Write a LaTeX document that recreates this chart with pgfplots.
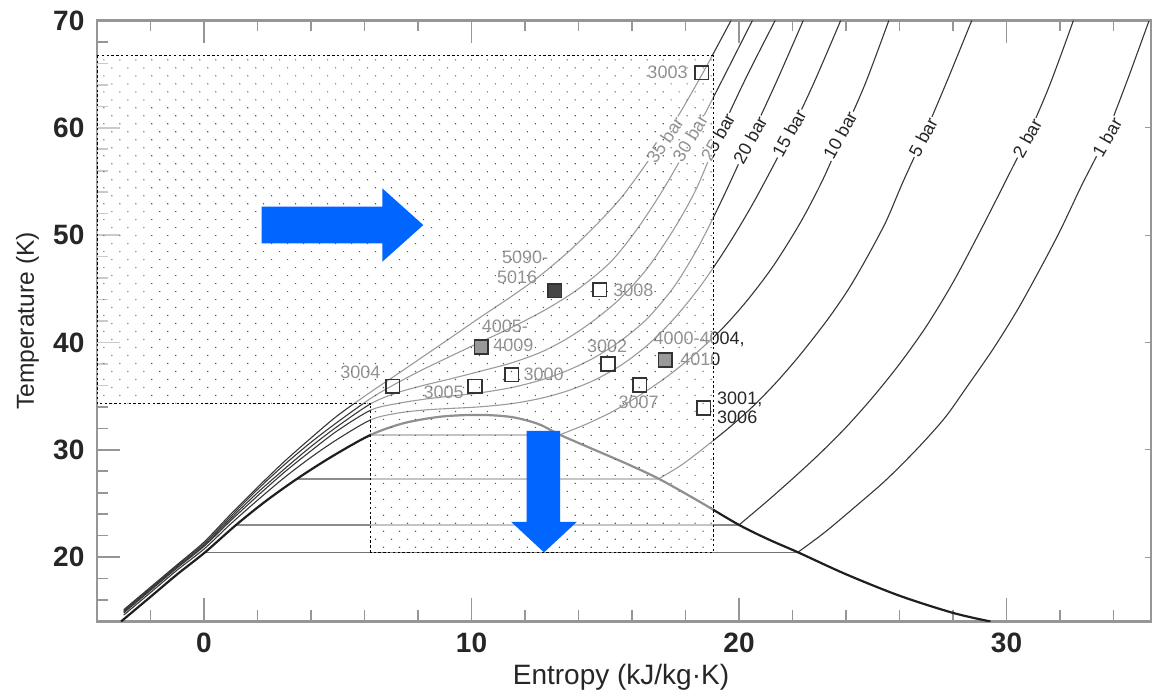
\documentclass[border=0pt]{standalone}
\usepackage{fontspec}
\setmainfont{Liberation Sans}
\usepackage{pgfplots}
\pgfplotsset{compat=1.18}
\usetikzlibrary{patterns.meta}

\definecolor{framegray}{RGB}{150,150,150}
\definecolor{arrowblue}{RGB}{0,102,255}
\definecolor{isobar}{RGB}{55,55,55}
\definecolor{tieline}{RGB}{140,140,140}

\newcommand{\lblfont}{\fontsize{9}{10}\selectfont}

\begin{document}
\begin{tikzpicture}
\useasboundingbox (-48.5pt,-34.8pt) rectangle (528pt,310.75pt);

\begin{axis}[
  at={(0pt,0pt)}, anchor=south west,
  scale only axis, width=527pt, height=300.5pt,
  xmin=-4, xmax=35.4, ymin=14, ymax=70,
  xtick={0,10,20,30},
  minor xtick={-2,2,4,6,8,12,14,16,18,22,24,26,28,32,34},
  ytick={20,30,40,50,60,70},
  minor ytick={16,18,22,24,26,28,32,34,36,38,42,44,46,48,52,54,56,58,62,64,66,68},
  ytick pos=left,
  tick align=inside,
  major tick length=11.5pt, minor tick length=5.5pt,
  axis line style={draw=framegray, line width=1.2pt},
  tick style={draw=framegray, line width=0.8pt},
  tick label style={font=\fontsize{14}{16}\selectfont\bfseries, text=black!85},
  /pgf/number format/assume math mode=true,
  xticklabel style={yshift=-2.2pt},
  yticklabel style={xshift=-2.8pt},
]

% ---- two-phase tie lines (1, 2, 5, 10 bar)
\addplot[tieline, line width=0.9pt] coordinates {(6.24,31.4) (13.3,31.4)};
\addplot[tieline, line width=0.9pt] coordinates {(3.48,27.3) (17.0,27.3)};
\addplot[tieline, line width=0.9pt] coordinates {(1.2,23.0) (20.0,23.0)};
\addplot[black!55, line width=0.7pt] coordinates {(0.04,20.45) (22.2,20.45)};

% ---- supercritical isobars
\addplot[isobar, line width=0.55pt, smooth] coordinates {
 (-3.0,15.1) (-2,17.2) (-1,19.3) (0,21.4) (1,24.0) (2,26.5) (3,28.9) (4,31.1) (5,33.2)
 (6.24,35.4) (7.2,37.0) (8.2,38.7) (9.2,40.4) (10.3,42.3) (11.5,44.3) (12.5,46.1)
 (13.6,48.4) (14.6,50.8) (15.6,53.5) (16.6,56.9) (17.6,60.6) (18.6,64.9) (19.7,70)};
\addplot[isobar, line width=0.55pt, smooth] coordinates {
 (-3.0,15.0) (-2,17.1) (-1,19.2) (0,21.25) (1,23.8) (2,26.3) (3,28.6) (4,30.7) (5,32.6)
 (6.24,34.8) (7.2,36.2) (8.2,37.5) (9.2,38.7) (10.3,40.0) (11.5,41.4) (12.8,43.1)
 (14.0,45.0) (15.2,47.5) (16.2,50.6) (17.2,54.4) (18.2,58.8) (19.3,64.1) (20.5,70)};
\addplot[isobar, line width=0.55pt, smooth] coordinates {
 (-3.0,14.9) (-2,17.0) (-1,19.1) (0,21.1) (1,23.6) (2,26.0) (3,28.2) (4,30.3) (5,32.2)
 (6.24,34.3) (7.2,35.3) (8.2,36.0) (9.2,36.6) (10.3,37.3) (11.5,38.1) (12.6,39.1)
 (13.6,40.4) (14.6,42.1) (15.6,44.2) (16.6,47.0) (17.6,50.7) (18.4,54.3) (19.2,59.0)
 (20.25,64.6) (21.35,70)};
\addplot[isobar, line width=0.55pt, smooth] coordinates {
 (-3.0,14.8) (-2,16.9) (-1,19.0) (0,21.0) (1,23.4) (2,25.7) (3,27.9) (4,29.9) (5,31.8)
 (6.24,33.7) (7.2,34.3) (8.2,34.7) (9.2,35.0) (10.3,35.3) (11.5,35.8) (12.6,36.5)
 (13.6,37.4) (14.6,38.6) (15.6,40.2) (16.6,42.3) (17.6,45.3) (18.5,49.0) (19.4,53.5)
 (20.4,58.9) (21.4,64.3) (22.4,70)};
\addplot[isobar, line width=0.55pt, smooth] coordinates {
 (-3.0,14.6) (-2,16.7) (-1,18.8) (0,20.75) (1,23.1) (2,25.3) (3,27.4) (4,29.3) (5,31.0)
 (6.24,32.8) (7.2,33.4) (8.2,33.7) (9.2,33.85) (10.3,34.0) (11.5,34.3) (12.6,34.8)
 (13.6,35.5) (14.6,36.5) (15.6,37.9) (16.6,39.8) (17.6,42.3) (18.6,45.4) (19.6,49.1)
 (20.6,53.3) (21.87,59.3) (22.8,64.2) (23.8,70)};

% ---- subcritical isobars, vapour side
\addplot[isobar, line width=0.55pt, smooth] coordinates {
 (13.3,31.4) (14.3,32.4) (15.3,33.6) (16.3,35.1) (17.3,36.8) (18.3,38.8) (19.3,41.1)
 (20.3,43.9) (21.3,47.2) (22.3,51.2) (23.1,55.0) (23.78,58.8) (24.7,64.0) (25.6,70)};
\addplot[isobar, line width=0.55pt, smooth] coordinates {
 (17.0,27.3) (17.8,28.5) (18.5,29.8) (19.6,32.0) (20.5,34.0) (21.4,36.3) (22.3,38.9)
 (23.3,42.1) (24.1,45.0) (24.8,48.0) (25.5,51.3) (26.1,54.8) (26.88,59.1) (27.8,64.5) (28.7,70)};
\addplot[isobar, line width=0.55pt, smooth] coordinates {
 (20.0,23.0) (21.0,25.1) (22.0,27.3) (23.0,29.6) (24.0,32.1) (25.0,34.9) (26.0,38.0)
 (27.0,41.5) (28.0,45.6) (29.0,50.3) (30.0,55.2) (30.77,59.1) (31.6,63.9) (32.5,70)};
\addplot[isobar, line width=0.55pt, smooth] coordinates {
 (22.2,20.45) (23.2,22.3) (24.3,24.6) (25.5,27.2) (26.7,30.2) (27.7,33.0) (28.5,35.8)
 (29.5,39.4) (30.4,43.0) (31.2,46.6) (32.0,50.4) (32.8,54.6) (33.6,58.6) (34.45,64.0) (35.33,70)};

% ---- saturation dome
\addplot[black!88, line width=1.1pt, smooth] coordinates {
 (-3.1,14.0) (-2.0,16.3) (-1.0,18.4) (0.04,20.45) (1.2,23.0) (2.3,25.2) (3.48,27.3)
 (4.8,29.4) (6.24,31.4) (7.5,32.5) (8.9,33.1) (10.3,33.25) (11.5,33.05) (12.5,32.4)
 (13.3,31.4) (14.5,30.1) (15.8,28.7) (17.0,27.3) (18.5,25.2) (20.0,23.0) (21.1,21.65)
 (22.2,20.45) (24.0,18.4) (26.0,16.4) (28.0,14.8) (29.4,14.0)};

% ---- isobar labels
\tikzset{plabel/.style={fill=white, inner sep=0.6pt, font=\lblfont, text=black!85}}
\node[plabel, rotate=56] at (axis cs:17.23,58.86) {35 bar};
\node[plabel, rotate=59] at (axis cs:18.17,59.05) {30 bar};
\node[plabel, rotate=61] at (axis cs:19.21,59.14) {25 bar};
\node[plabel, rotate=61] at (axis cs:20.41,58.86) {20 bar};
\node[plabel, rotate=61] at (axis cs:21.87,59.5) {15 bar};
\node[plabel, rotate=61] at (axis cs:23.78,59.33) {10 bar};
\node[plabel, rotate=62] at (axis cs:26.88,59.14) {5 bar};
\node[plabel, rotate=61] at (axis cs:30.77,59.05) {2 bar};
\node[plabel, rotate=60] at (axis cs:33.76,59.14) {1 bar};

% ---- sample labels
\tikzset{slabel/.style={inner sep=0pt, font=\lblfont, text=black!85}}
\node[slabel, anchor=east] at (axis cs:18.09,65.2) {3003};
\node[slabel, anchor=west] at (axis cs:11.13,47.91) {5090-};
\node[slabel, anchor=west] at (axis cs:10.94,46.05) {5016};
\node[slabel, anchor=west] at (axis cs:15.29,44.9) {3008};
\node[slabel, anchor=west] at (axis cs:10.37,41.48) {4005-};
\node[slabel, anchor=west] at (axis cs:10.8,39.71) {4009};
\node[slabel, anchor=west] at (axis cs:5.08,37.2) {3004};
\node[slabel, anchor=west] at (axis cs:8.19,35.33) {3005};
\node[slabel, anchor=west] at (axis cs:11.93,37.0) {3000};
\node[slabel, anchor=west] at (axis cs:14.31,39.66) {3002};
\node[slabel, anchor=west] at (axis cs:16.79,40.25) {4000-4004,};
\node[slabel, anchor=west] at (axis cs:17.79,38.45) {4010};
\node[slabel, anchor=west] at (axis cs:15.48,34.45) {3007};
\node[slabel, anchor=west] at (axis cs:19.17,34.72) {3001,};
\node[slabel, anchor=west] at (axis cs:19.17,33.0) {3006};

% ---- dotted operating region
\fill[white, fill opacity=0.5] (axis cs:-4,66.7) -- (axis cs:19.03,66.7) -- (axis cs:19.03,20.45)
  -- (axis cs:6.24,20.45) -- (axis cs:6.24,34.3) -- (axis cs:-4,34.3) -- cycle;
\path[pattern={Dots[distance=5.65pt, angle=45, radius=0.4pt]}, pattern color=black!65]
  (axis cs:-4,66.7) -- (axis cs:19.03,66.7) -- (axis cs:19.03,20.45)
  -- (axis cs:6.24,20.45) -- (axis cs:6.24,34.3) -- (axis cs:-4,34.3) -- cycle;
\draw[black, line width=0.45pt, dash pattern=on 1.2pt off 1.2pt]
  (axis cs:-4,66.7) -- (axis cs:19.03,66.7) -- (axis cs:19.03,20.45)
  -- (axis cs:6.24,20.45) -- (axis cs:6.24,34.3) -- (axis cs:-4,34.3) -- cycle;

% ---- sample states
\addplot[only marks, mark=square, mark size=3.4pt, mark options={draw=black!80, line width=0.8pt}]
  coordinates {(18.6,65.15) (14.79,44.93) (7.06,35.91) (10.13,35.91) (11.5,36.99)
               (15.1,38.0) (16.28,36.03) (18.68,33.89)};
\addplot[only marks, mark=square*, mark size=3.4pt, mark options={draw=black!80, fill=black!72, line width=0.8pt}]
  coordinates {(13.11,44.84)};
\addplot[only marks, mark=square*, mark size=3.4pt, mark options={draw=black!80, fill=black!40, line width=0.8pt}]
  coordinates {(10.37,39.57) (17.25,38.36)};

% ---- direction arrows
\fill[arrowblue] (axis cs:2.157,49.23) -- (axis cs:6.665,49.23) -- (axis cs:6.665,47.52)
  -- (axis cs:8.198,50.94) -- (axis cs:6.665,54.36) -- (axis cs:6.665,52.65)
  -- (axis cs:2.157,52.65) -- cycle;
\fill[arrowblue] (axis cs:12.06,31.77) -- (axis cs:13.31,31.77) -- (axis cs:13.31,23.29)
  -- (axis cs:13.94,23.29) -- (axis cs:12.71,20.44) -- (axis cs:11.48,23.29)
  -- (axis cs:12.06,23.29) -- cycle;
\end{axis}

% right-hand frame ticks
\begin{axis}[
  at={(0pt,0pt)}, anchor=south west,
  scale only axis, width=527pt, height=300.5pt,
  xmin=-4, xmax=35.4, ymin=14, ymax=70,
  axis x line=none, axis y line*=right,
  ytick={20,30,40,50,60,70}, yticklabels={}, minor ytick={},
  tick align=inside, major tick length=3pt,
  axis line style={draw=framegray, line width=1.2pt},
  tick style={draw=framegray, line width=0.6pt},
]
\end{axis}

\node[rotate=90, font=\fontsize{12.3}{14}\selectfont, text=black!85] at (-34.75pt,150.25pt) {Temperature (K)};
\node[font=\fontsize{14}{16}\selectfont, text=black!85] at (262pt,-27.75pt) {Entropy (kJ/kg·K)};
\end{tikzpicture}
\end{document}
